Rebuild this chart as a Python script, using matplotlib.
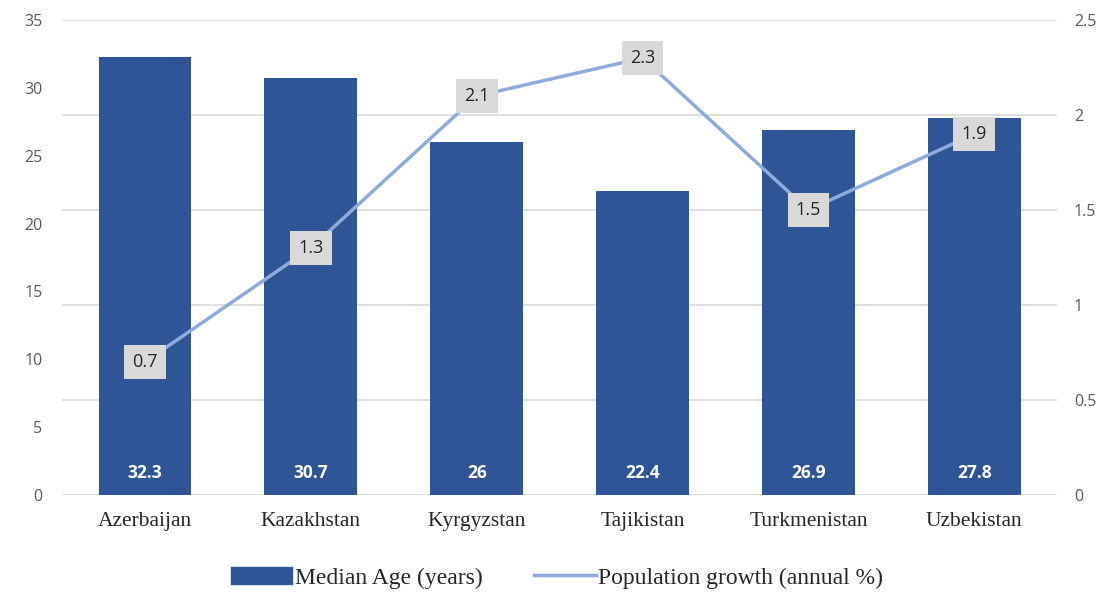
import matplotlib.pyplot as plt
import numpy as np
from matplotlib.lines import Line2D
from matplotlib.patches import Patch

countries = ['Azerbaijan', 'Kazakhstan', 'Kyrgyzstan', 'Tajikistan', 'Turkmenistan', 'Uzbekistan']
median_age = [32.3, 30.7, 26, 22.4, 26.9, 27.8]
pop_growth = [0.7, 1.3, 2.1, 2.3, 1.5, 1.9]

bar_color = '#2f5597'
line_color = '#8faadc'
tick_color = '#595959'

fig = plt.figure(figsize=(11.14, 5.94), dpi=100)
ax = fig.add_axes([0.0557, 0.1667, 0.8933, 0.7996])
ax2 = ax.twinx()

x = np.arange(len(countries))
ax.bar(x, median_age, width=0.56, color=bar_color, zorder=2)
ax.set_xlim(-0.5, len(countries) - 0.5)
ax.set_ylim(0, 35)
ax.set_yticks(range(0, 36, 5))
for xi, v in zip(x, median_age):
    ax.text(xi, 1.6, f"{v:g}", ha='center', va='center', color='white',
            fontsize=12.5, fontweight='bold', family='Open Sans')

# gridlines follow the secondary axis ticks
for g in [0, 0.5, 1, 1.5, 2, 2.5]:
    ax.axhline(g * 35 / 2.5, color='#d9d9d9', linewidth=1.2, zorder=0)

ax2.set_ylim(0, 2.5)
ax2.set_yticks([0, 0.5, 1, 1.5, 2, 2.5])
ax2.set_yticklabels(['0', '0.5', '1', '1.5', '2', '2.5'])
ax2.plot(x, pop_growth, color=line_color, linewidth=2.5, zorder=3)
for xi, v in zip(x, pop_growth):
    ax2.text(xi, v, f"{v:g}", ha='center', va='center', color='#262626',
             fontsize=13, family='Open Sans', zorder=4,
             bbox=dict(boxstyle='square,pad=0.45', facecolor='#d9d9d9', edgecolor='none'))

for a in (ax, ax2):
    for s in a.spines.values():
        s.set_visible(False)
    a.tick_params(length=0, labelsize=11.5, labelcolor=tick_color)
for lab in ax.get_yticklabels() + ax2.get_yticklabels():
    lab.set_family('Open Sans')
ax.tick_params(axis='y', pad=14)
ax2.tick_params(axis='y', pad=12)

ax.set_xticks(x)
ax.set_xticklabels(countries, fontsize=15.5, family='Liberation Serif', color='#262626')
ax.tick_params(axis='x', pad=12)

handles = [Patch(facecolor=bar_color, edgecolor=bar_color, label='Median Age (years)'),
           Line2D([0], [0], color=line_color, linewidth=2.5, label='Population growth (annual %)')]
fig.legend(handles=handles, loc='center', bbox_to_anchor=(0.5, 0.027), ncol=2, frameon=False,
           prop={'family': 'Liberation Serif', 'size': 17}, handlelength=2.6, handletextpad=0.1,
           columnspacing=2.2, labelcolor='#262626')

fig.savefig('out.png', dpi=100)
